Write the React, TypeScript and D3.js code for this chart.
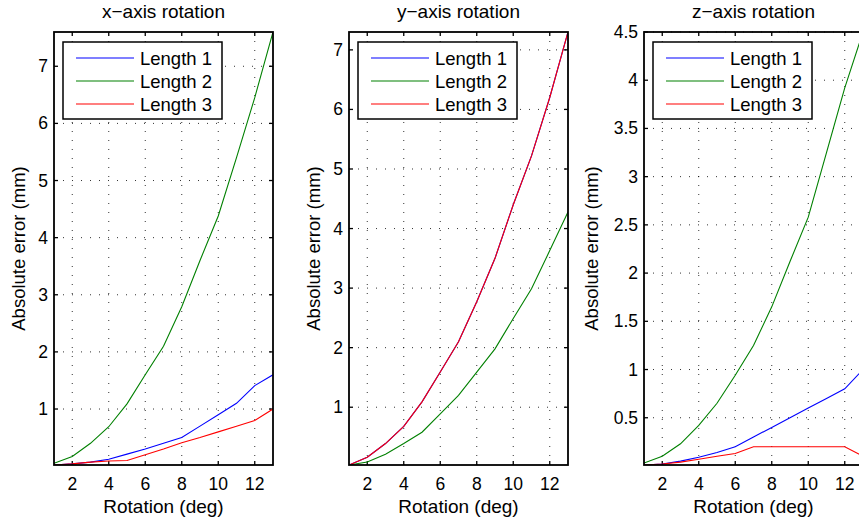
import React from "react";
import * as d3 from "d3";

const rotations = [1, 2, 3, 4, 5, 6, 7, 8, 9, 10, 11, 12, 13];
const seriesNames = ["Length 1", "Length 2", "Length 3"];
const seriesColors = ["#0000ff", "#008000", "#ff0000"];
const panelTitles = ["x\u2212axis rotation", "y\u2212axis rotation", "z\u2212axis rotation"];

// x-axis rotation
const xLen1 = [0.02, 0.04, 0.07, 0.12, 0.21, 0.3, 0.4, 0.5, 0.7, 0.9, 1.1, 1.41, 1.6];
const xLen2 = [0.05, 0.17, 0.4, 0.69, 1.09, 1.6, 2.1, 2.79, 3.6, 4.38, 5.4, 6.45, 7.6];
const xLen3 = [0.02, 0.04, 0.07, 0.09, 0.1, 0.2, 0.3, 0.41, 0.5, 0.6, 0.7, 0.8, 1.0];
// y-axis rotation
const yLen1 = [0.03, 0.16, 0.39, 0.68, 1.09, 1.59, 2.1, 2.77, 3.5, 4.4, 5.22, 6.2, 7.3];
const yLen2 = [0.03, 0.08, 0.21, 0.39, 0.58, 0.89, 1.2, 1.59, 1.98, 2.49, 2.99, 3.63, 4.28];
const yLen3 = [0.03, 0.16, 0.39, 0.68, 1.09, 1.59, 2.1, 2.77, 3.5, 4.4, 5.22, 6.2, 7.3];
// z-axis rotation
const zLen1 = [0.01, 0.02, 0.05, 0.09, 0.14, 0.2, 0.3, 0.4, 0.5, 0.6, 0.7, 0.8, 1.0];
const zLen2 = [0.03, 0.1, 0.23, 0.42, 0.65, 0.94, 1.25, 1.65, 2.12, 2.58, 3.25, 3.92, 4.5];
const zLen3 = [0.01, 0.02, 0.04, 0.07, 0.1, 0.13, 0.2, 0.2, 0.2, 0.2, 0.2, 0.2, 0.1];

const xTicks = [2, 4, 6, 8, 10, 12];
const yTicksX = [1, 2, 3, 4, 5, 6, 7];
const yTicksY = [1, 2, 3, 4, 5, 6, 7];
const yTicksZ = [0.5, 1, 1.5, 2, 2.5, 3, 3.5, 4, 4.5];
const yTickLabelsZ = ["0.5", "1", "1.5", "2", "2.5", "3", "3.5", "4", "4.5"];

const xLabel = "Rotation (deg)";
const yLabel = "Absolute error (mm)";

const W = 859;
const H = 525;
const FONT = "'Liberation Sans', Arial, Helvetica, sans-serif";

type PanelProps = {
  left: number;
  title: string;
  series: number[][];
  yTicks: number[];
  yTickLabels: string[];
  yLabelOffset: number;
};

function Panel({ left, title, series, yTicks, yTickLabels, yLabelOffset }: PanelProps) {
  const pw = 219;
  const top = 32;
  const bottom = 465;
  const x = d3.scaleLinear().domain([1, 13]).range([left, left + pw]);
  const all = series.flat();
  const y = d3
    .scaleLinear()
    .domain([d3.min(all) as number, d3.max(all) as number])
    .range([bottom, top]);
  const line = d3
    .line<number>()
    .x((_, i) => x(rotations[i]))
    .y((d) => y(d));
  const right = left + pw;
  const tl = 4;
  const clipId = "clip" + Math.round(left);
  const lgX = left + 9;
  const lgY = 42;
  return (
    <g>
      <defs>
        <clipPath id={clipId}>
          <rect x={left} y={top} width={pw} height={bottom - top} />
        </clipPath>
      </defs>
      {xTicks.map((t) => (
        <line
          key={"gx" + t}
          x1={x(t)}
          x2={x(t)}
          y1={top}
          y2={bottom}
          stroke="#000"
          strokeWidth={1}
          strokeDasharray="1,8"
          opacity={0.8}
        />
      ))}
      {yTicks.map((t) => (
        <line
          key={"gy" + t}
          x1={left}
          x2={right}
          y1={y(t)}
          y2={y(t)}
          stroke="#000"
          strokeWidth={1}
          strokeDasharray="1,8"
          opacity={0.8}
        />
      ))}
      {xTicks.map((t) => (
        <g key={"tx" + t}>
          <line x1={x(t)} x2={x(t)} y1={bottom} y2={bottom - tl} stroke="#000" strokeWidth={1.3} />
          <line x1={x(t)} x2={x(t)} y1={top} y2={top + tl} stroke="#000" strokeWidth={1.3} />
          <text x={x(t)} y={490} textAnchor="middle" fontFamily={FONT} fontSize={17.5} fill="#000">
            {t}
          </text>
        </g>
      ))}
      {yTicks.map((t, i) => (
        <g key={"ty" + t}>
          <line x1={left} x2={left + tl} y1={y(t)} y2={y(t)} stroke="#000" strokeWidth={1.3} />
          <line x1={right} x2={right - tl} y1={y(t)} y2={y(t)} stroke="#000" strokeWidth={1.3} />
          <text x={left - 6} y={y(t) + 6} textAnchor="end" fontFamily={FONT} fontSize={17.5} fill="#000">
            {yTickLabels[i]}
          </text>
        </g>
      ))}
      <g clipPath={`url(#${clipId})`}>
        {series.map((s, i) => (
          <path key={"s" + i} d={line(s) || ""} fill="none" stroke={seriesColors[i]} strokeWidth={1.1} />
        ))}
      </g>
      <rect x={left} y={top} width={pw} height={bottom - top} fill="none" stroke="#000" strokeWidth={1.8} />
      <text x={left + pw / 2} y={18} textAnchor="middle" fontFamily={FONT} fontSize={19} fill="#000">
        {title}
      </text>
      <text x={left + pw / 2} y={513} textAnchor="middle" fontFamily={FONT} fontSize={19} fill="#000">
        {xLabel}
      </text>
      <text
        transform={`translate(${left - yLabelOffset},${(top + bottom) / 2}) rotate(-90)`}
        textAnchor="middle"
        fontFamily={FONT}
        fontSize={18.5}
        fill="#000"
      >
        {yLabel}
      </text>
      <rect x={lgX} y={lgY} width={159} height={77} fill="#fff" stroke="#000" strokeWidth={1.5} />
      {seriesNames.map((n, i) => {
        const cy = lgY + 16 + i * 23;
        return (
          <g key={"lg" + i}>
            <line x1={lgX + 13} x2={lgX + 71} y1={cy} y2={cy} stroke={seriesColors[i]} strokeWidth={1.1} />
            <text x={lgX + 77} y={cy + 6.5} fontFamily={FONT} fontSize={18.5} fill="#000">
              {n}
            </text>
          </g>
        );
      })}
    </g>
  );
}

export default function App() {
  const fmt = (v: number) => String(v);
  return (
    <svg width={W} height={H} style={{ position: "absolute", left: 0, top: 0, background: "#fff" }}>
      <rect x={0} y={0} width={W} height={H} fill="#fff" />
      <Panel
        left={54}
        title={panelTitles[0]}
        series={[xLen1, xLen2, xLen3]}
        yTicks={yTicksX}
        yTickLabels={yTicksX.map(fmt)}
        yLabelOffset={29}
      />
      <Panel
        left={349}
        title={panelTitles[1]}
        series={[yLen1, yLen2, yLen3]}
        yTicks={yTicksY}
        yTickLabels={yTicksY.map(fmt)}
        yLabelOffset={29}
      />
      <Panel
        left={644}
        title={panelTitles[2]}
        series={[zLen1, zLen2, zLen3]}
        yTicks={yTicksZ}
        yTickLabels={yTickLabelsZ}
        yLabelOffset={46}
      />
    </svg>
  );
}
